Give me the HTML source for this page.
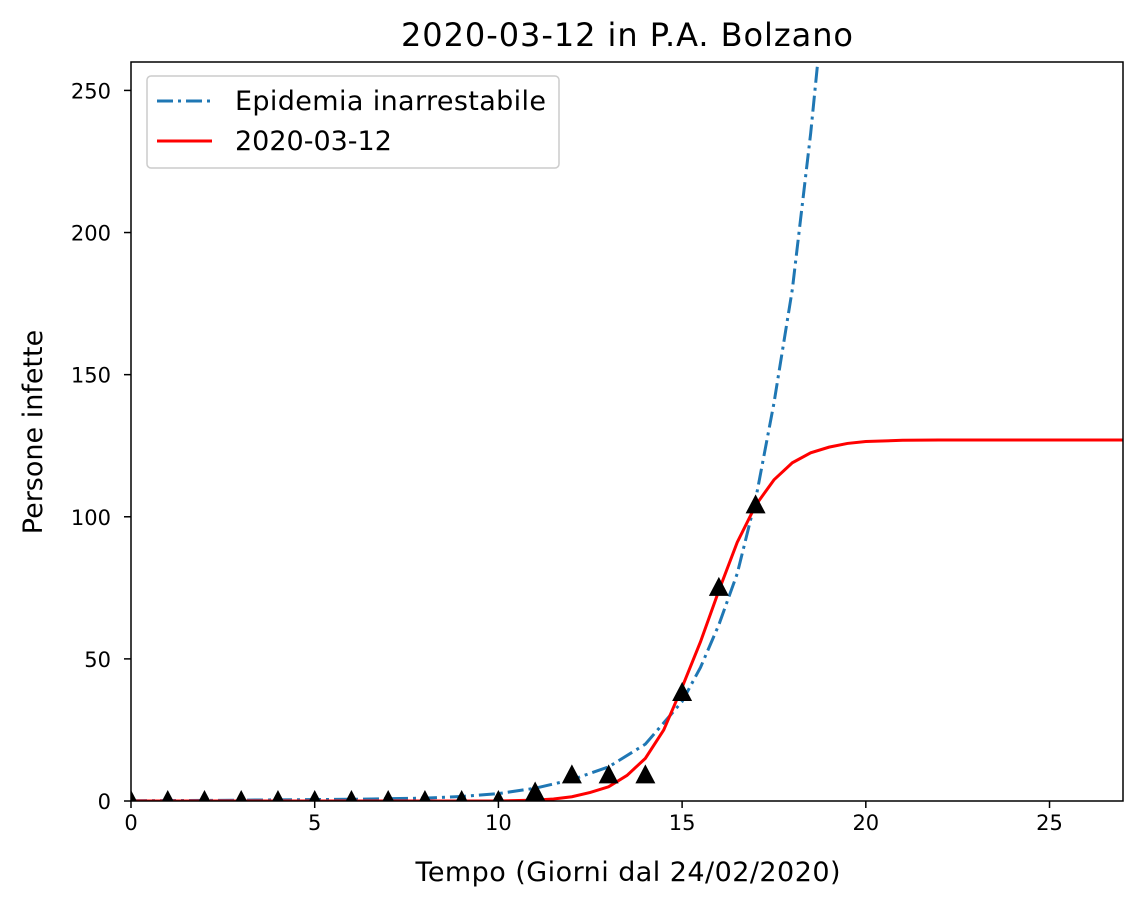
<!DOCTYPE html>
<html><head><meta charset="utf-8"><style>
body{margin:0;background:#fff;}
svg text{font-family:"DejaVu Sans","Liberation Sans",sans-serif;fill:#000;}
</style></head><body>
<svg id="chart" width="1143" height="908" xmlns="http://www.w3.org/2000/svg">
<defs><clipPath id="clip"><rect x="131" y="62" width="992" height="739"/></clipPath></defs>
<rect width="1143" height="908" fill="#fff"/>
<text x="627" y="46" font-size="32" text-anchor="middle" textLength="452">2020-03-12 in P.A. Bolzano</text>
<g id="xticks"></g><g id="yticks"></g>
<g id="series" clip-path="url(#clip)"></g>
<rect x="131" y="62" width="992" height="739" fill="none" stroke="#000" stroke-width="1.5"/>
<text x="628" y="881" font-size="27" text-anchor="middle" textLength="425">Tempo (Giorni dal 24/02/2020)</text>
<text transform="translate(42,432) rotate(-90)" font-size="27" text-anchor="middle">Persone infette</text>
<g>
<rect x="147" y="76" width="412" height="92" rx="4" fill="#fff" stroke="#ccc" stroke-width="1.5"/>
<line x1="157" y1="101" x2="212" y2="101" stroke="#1f77b4" stroke-width="3" stroke-dasharray="16,5,3,5"/>
<text x="235" y="110" font-size="27" textLength="311">Epidemia inarrestabile</text>
<line x1="157" y1="141" x2="212" y2="141" stroke="#ff0000" stroke-width="3"/>
<text x="235" y="150" font-size="27">2020-03-12</text>
</g>
</svg>
<script>
const dataDays=[0,1,2,3,4,5,6,7,8,9,10,11,12,13,14,15,16,17];
const dataValues=[0,0,0,0,0,0,0,0,0,0,0,3,9,9,9,38,75,104];
const expDays=[0,2,4,6,7,8,9,10,11,12,13,14,15,15.5,16,16.5,17,17.5,18,18.5,19];
const expValues=[0.1,0.2,0.4,0.6,0.8,1,1.6,2.6,4.5,7.5,12,20,35,47,62,80,106,140,180,235,300];
const fitDays=[0,10,11,11.5,12,12.5,13,13.5,14,14.5,15,15.5,16,16.5,17,17.5,18,18.5,19,19.5,20,21,22,27];
const fitValues=[0,0,0.3,0.7,1.5,3,5,9,15,25,40,56,74,91,104,113,119,122.5,124.5,125.8,126.5,126.9,127,127];
const xTicks=[0,5,10,15,20,25];
const yTicks=[0,50,100,150,200,250];
const X=v=>131+v*(992/27), Y=v=>801-v*(739/260);
const NS="http://www.w3.org/2000/svg";
function mk(tag,attrs,parent){const e=document.createElementNS(NS,tag);for(const k in attrs)e.setAttribute(k,attrs[k]);parent.appendChild(e);return e;}
const xg=document.getElementById('xticks'), yg=document.getElementById('yticks'), sg=document.getElementById('series');
xTicks.forEach(t=>{
 const l=mk('line',{x1:X(t),x2:X(t),y1:801,y2:808,stroke:'#000','stroke-width':1.5},xg);
 
 
 const tx=mk('text',{x:X(t),y:830,'font-size':21,'text-anchor':'middle'},xg);tx.textContent=t;
 
 
});
yTicks.forEach(t=>{
 const l=mk('line',{x1:124,x2:131,y1:Y(t),y2:Y(t),stroke:'#000','stroke-width':1.5},yg);
 
 
 const tx=mk('text',{x:111,y:Y(t)+8,'font-size':21,'text-anchor':'end'},yg);tx.textContent=t;
 
 
});
const pe=mk('polyline',{points:expDays.map((d,i)=>X(d)+','+Y(expValues[i])).join(' '),fill:'none',stroke:'#1f77b4','stroke-width':3,'stroke-dasharray':'16,5,3,5'},sg);


const pf=mk('polyline',{points:fitDays.map((d,i)=>X(d)+','+Y(fitValues[i])).join(' '),fill:'none',stroke:'#ff0000','stroke-width':3},sg);


dataDays.forEach((d,i)=>{
 const cx=X(d), cy=Y(dataValues[i]);
 const p=mk('polygon',{points:`${cx},${cy-11} ${cx-10},${cy+8} ${cx+10},${cy+8}`,fill:'#000'},sg);
 
 
});
</script>
</body></html>
